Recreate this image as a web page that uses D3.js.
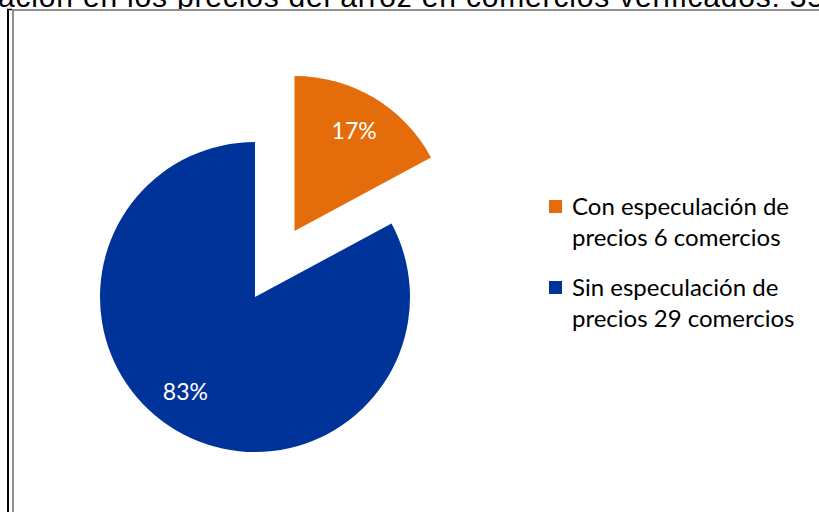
<!DOCTYPE html>
<html>
<head>
<meta charset="utf-8">
<script src="https://cdn.jsdelivr.net/npm/d3@7"></script>
<style>
  body { margin: 0; background: #fff; }
  svg { display: block; }
</style>
</head>
<body>
<svg id="chart" width="819" height="512"></svg>
<script>
// data
var categories = ["Con especulación de precios 6 comercios", "Sin especulación de precios 29 comercios"]
var legendLines = [["Con especulación de", "precios 6 comercios"], ["Sin especulación de", "precios 29 comercios"]]
var comercios = [6, 29]
var colors = ["#E46C0A", "#003399"]
var titleText = "ación en los precios del arroz en comercios verificados: 35"

var svg = d3.select("#chart")

// title cut off at top of picture
svg.append("text")
    .attr("x", -2)
    .attr("y", 7)
    .attr("font-family", "Liberation Sans, Arial, sans-serif")
    .attr("font-size", 30)
    .attr("textLength", 826)
    .attr("lengthAdjust", "spacing")
    .attr("fill", "#000")
    .text(titleText)

// frame lines
svg.append("rect").attr("x", 0).attr("y", 9).attr("width", 819).attr("height", 503).attr("fill", "#fff")
svg.append("line").attr("x1", 8).attr("y1", 9).attr("x2", 8).attr("y2", 512)
    .attr("stroke", "#000").attr("stroke-width", 2)
svg.append("line").attr("x1", 7).attr("y1", 9.5).attr("x2", 12).attr("y2", 9.5)
    .attr("stroke", "#000").attr("stroke-width", 1.5)
svg.append("line").attr("x1", 13).attr("y1", 10).attr("x2", 13).attr("y2", 512)
    .attr("stroke", "#8e8e8e").attr("stroke-width", 2)
svg.append("line").attr("x1", 12).attr("y1", 10).attr("x2", 819).attr("y2", 10)
    .attr("stroke", "#8e8e8e").attr("stroke-width", 2)

var cx = 255, cy = 297, radius = 155, explode = 77
var total = d3.sum(comercios)

var pie = d3.pie().sort(null).value(function(d){ return d })
var arc = d3.arc().innerRadius(0).outerRadius(radius)
var labelArc = d3.arc().innerRadius(radius*0.75).outerRadius(radius*0.75)
// excel nudges the big slice label a bit
var labelNudge = [[0, 0], [-10, -5]]

var arcs = pie(comercios)

var g = svg.append("g").attr("transform", "translate(" + cx + "," + cy + ")")

var slices = g.selectAll("g.slice")
    .data(arcs)
    .enter().append("g")
    .attr("class", "slice")
    .attr("transform", function(d, i){
        if (i != 0) return null
        var mid = (d.startAngle + d.endAngle)/2
        return "translate(" + (Math.sin(mid)*explode) + "," + (-Math.cos(mid)*explode) + ")"
    })

slices.append("path")
    .attr("d", arc)
    .attr("fill", function(d, i){ return colors[i] })

slices.append("text")
    .attr("transform", function(d, i){
        var c = labelArc.centroid(d)
        return "translate(" + (c[0] + labelNudge[i][0]) + "," + (c[1] + labelNudge[i][1]) + ")"
    })
    .attr("text-anchor", "middle")
    .attr("dy", "0.35em")
    .attr("font-family", "Lato, sans-serif")
    .attr("font-size", 23)
    .attr("fill", "#fff")
    .text(function(d){ return Math.round(d.data/total*100) + "%" })

// legend
var legend = svg.append("g").attr("transform", "translate(549,0)")
var legendY = [200, 281]
var item = legend.selectAll("g.item")
    .data(categories)
    .enter().append("g")
    .attr("class", "item")
    .attr("transform", function(d, i){ return "translate(0," + legendY[i] + ")" })

item.append("rect")
    .attr("width", 13)
    .attr("height", 13)
    .attr("fill", function(d, i){ return colors[i] })

item.append("text")
    .attr("font-family", "Lato, sans-serif")
    .attr("font-size", 24)
    .attr("fill", "#000")
    .selectAll("tspan")
    .data(function(d, i){ return legendLines[i] })
    .enter().append("tspan")
    .attr("x", 23)
    .attr("y", function(d, j){ return 15 + j*31 })
    .text(function(d){ return d })
</script>
</body>
</html>
